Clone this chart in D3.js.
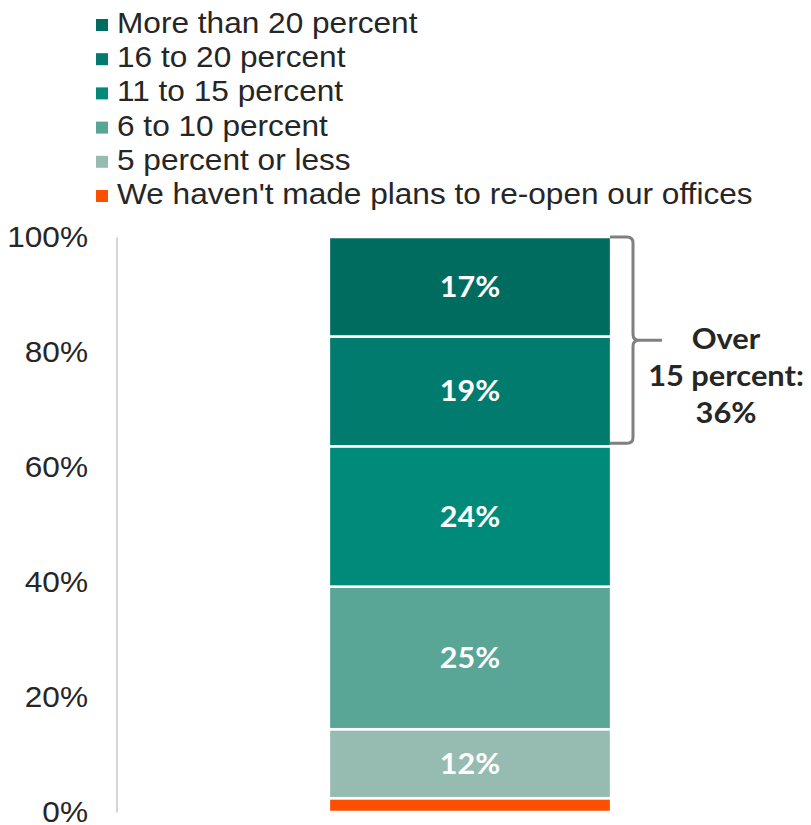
<!DOCTYPE html>
<html>
<head>
<meta charset="utf-8">
<script src="https://cdn.jsdelivr.net/npm/d3@7"></script>
<style>
  body { margin: 0; background: #fff; }
  svg { display: block; }
</style>
</head>
<body>
<div id="chart"></div>
<script>
// data, bottom segment first
const categories = ["All respondents"];
const series = [
  "We haven't made plans to re-open our offices",
  "5 percent or less",
  "6 to 10 percent",
  "11 to 15 percent",
  "16 to 20 percent",
  "More than 20 percent"
];
const values = [2.4, 12.0, 24.8, 24.4, 19.1, 17.3];
const colors = ["#fd4f00", "#96bcb2", "#59a596", "#008a7a", "#007b6d", "#006c5f"];
const yTicks = [0, 20, 40, 60, 80, 100];
const bracketFrom = 4; // "16 to 20" and above
const bracketLines = ["Over", "15 percent:", "36%"];

const width = 811, height = 825;
// the original text is a bit wider than the fonts we have
const stretch = 1.09;

let svg = d3.select("#chart")
  .append("svg")
  .attr("width", width)
  .attr("height", height);

let y = d3.scaleLinear().domain([0, 100]).range([812, 237]);
let x = d3.scaleBand().domain(categories).range([116, 824]).padding(0.43);

// axis
let axis = svg.append("g")
  .attr("transform", "translate(116.5,0)")
  .call(d3.axisLeft(y)
    .tickValues(yTicks)
    .tickSize(0)
    .tickPadding(28)
    .tickFormat(d => d + "%"));
axis.select(".domain").attr("stroke", "#bfbfbf").attr("stroke-width", 1.3);
axis.selectAll("text")
  .attr("x", -28.5 / stretch)
  .attr("transform", `scale(${stretch},1)`)
  .attr("font-family", "'Liberation Sans', Arial, sans-serif")
  .attr("font-size", "29px")
  .attr("fill", "#262626");

// stacked segments
let stacked = [];
let acc = 0;
values.forEach((v, i) => {
  stacked.push({name: series[i], v: v, y0: acc, y1: acc + v, color: colors[i]});
  acc += v;
});

let bars = svg.append("g");
bars.selectAll("rect")
  .data(stacked)
  .enter()
  .append("rect")
  .attr("x", x(categories[0]))
  .attr("width", x.bandwidth())
  .attr("y", d => y(d.y1))
  .attr("height", d => y(d.y0) - y(d.y1))
  .attr("fill", d => d.color)
  .attr("stroke", "#fff")
  .attr("stroke-width", 2.5);

let cx = x(categories[0]) + x.bandwidth() / 2;
bars.selectAll("text")
  .data(stacked.filter(d => d.v > 5))
  .enter()
  .append("text")
  .attr("transform", d => `translate(${cx},${y((d.y0 + d.y1) / 2)}) scale(${stretch},1)`)
  .attr("dy", "0.36em")
  .attr("text-anchor", "middle")
  .attr("font-family", "Lato, 'Open Sans', sans-serif")
  .attr("font-weight", "bold")
  .attr("font-size", "28px")
  .attr("fill", "#fff")
  .text(d => Math.round(d.v) + "%");

// bracket for the top two segments
let bTop = y(100), bBot = y(stacked[bracketFrom].y0) - 3;
let bMid = (bTop + bBot) / 2;
let bx0 = 610, bx = 633, tip = 662, r = 6;
let path = d3.path();
path.moveTo(bx0, bTop);
path.lineTo(bx - r, bTop);
path.quadraticCurveTo(bx, bTop, bx, bTop + r);
path.lineTo(bx, bMid - r);
path.quadraticCurveTo(bx, bMid, bx + r, bMid);
path.lineTo(tip, bMid);
path.moveTo(bx + r, bMid);
path.quadraticCurveTo(bx, bMid, bx, bMid + r);
path.lineTo(bx, bBot - r);
path.quadraticCurveTo(bx, bBot, bx - r, bBot);
path.lineTo(bx0, bBot);
svg.append("path")
  .attr("d", path.toString())
  .attr("fill", "none")
  .attr("stroke", "#808080")
  .attr("stroke-width", 3);

svg.append("text")
  .attr("transform", `translate(726,0) scale(1.1,1)`)
  .attr("text-anchor", "middle")
  .attr("font-family", "Lato, 'Open Sans', sans-serif")
  .attr("font-weight", "bold")
  .attr("font-size", "28px")
  .attr("fill", "#262626")
  .selectAll("tspan")
  .data(bracketLines)
  .enter()
  .append("tspan")
  .attr("x", 0)
  .attr("y", (d, i) => 349 + i * 37)
  .text(d => d);

// legend, top item first
let legendItems = stacked.slice().reverse();
let legend = svg.append("g");
let rows = legend.selectAll("g")
  .data(legendItems)
  .enter()
  .append("g")
  .attr("transform", (d, i) => `translate(0,${33 + i * 34.2})`);
rows.append("rect")
  .attr("x", 96)
  .attr("y", -14)
  .attr("width", 12)
  .attr("height", 12)
  .attr("fill", d => d.color);
rows.append("text")
  .attr("transform", `translate(117,0) scale(${stretch},1)`)
  .attr("font-family", "'Liberation Sans', Arial, sans-serif")
  .attr("font-size", "29px")
  .attr("fill", "#262626")
  .text(d => d.name);
</script>
</body>
</html>
